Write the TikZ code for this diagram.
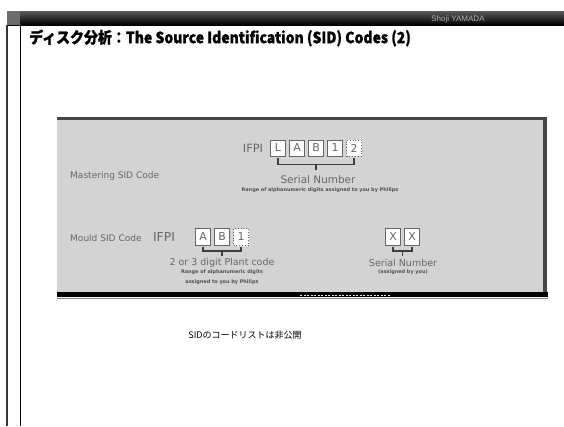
\documentclass[tikz,border=0pt]{standalone}
\usepackage{fontspec}
\usepackage{graphicx}
\usetikzlibrary{calc}
\setmainfont{Liberation Sans}
\newfontfamily\cjk{Noto Sans CJK JP}
\newfontfamily\cjkbold{Noto Sans CJK JP}[BoldFeatures={FakeBold=1.2}]
\newfontfamily\pan{DejaVu Sans}[Scale=0.95]
\definecolor{panelgray}{HTML}{D3D3D3}
\definecolor{inkgray}{HTML}{666666}
\tikzset{
  cbox/.style={draw=inkgray, fill=white, line width=0.8pt, minimum width=15pt, minimum height=16pt, inner sep=0pt, font=\pan\fontsize{11.5}{12}\selectfont, text=inkgray},
  cboxd/.style={cbox, dotted},
  ptext/.style={text=inkgray, inner sep=0pt, font=\pan\fontsize{9.5}{10}\selectfont},
  pbig/.style={text=inkgray, inner sep=0pt, font=\pan\fontsize{10}{10}\selectfont},
  psmall/.style={text=inkgray!80!black, inner sep=0pt, font=\pan\bfseries\fontsize{5.2}{6}\selectfont},
  brace/.style={draw=inkgray!60!black, line width=1.4pt}
}
\begin{document}
\begin{tikzpicture}[x=1pt,y=-1pt]
\useasboundingbox (0,0) rectangle (564,426);
\fill[white] (0,0) rectangle (564,426);
% header bar
\shade[top color=gray!70!black, bottom color=black] (7,11) rectangle (564,25);
\fill[gray!85!black] (7,11) rectangle (20,25);
\draw[gray!40!black, line width=1.8pt] (7,25) -- (7,426);
\draw[black, line width=1pt] (20,25) -- (20,426);
\node[text=gray!60, font=\fontsize{8}{9}\selectfont, inner sep=0pt] (author) at (458,19) {Shoji YAMADA};
% title
\node[anchor=west, inner sep=0pt, font=\cjkbold\bfseries\fontsize{15.5}{16}\selectfont] (title) at (29,38) {\scalebox{0.9}[1]{ディスク分析：The Source Identification (SID) Codes (2)}};
% panel
\fill[panelgray] (57,118) rectangle (547,297);
\fill[gray!55!black] (57,117) rectangle (547,120);
\fill[gray!55!black] (543,118) rectangle (547,292);
\fill[black] (57,292) rectangle (548,297);
\draw[gray, line width=0.8pt] (57,298.5) -- (548,298.5);
\draw[white!85!gray, dash pattern=on 2pt off 1.5pt, line width=1pt] (300,295) -- (390,295);
% mastering line
\node[pbig, font=\pan\fontsize{12}{12}\selectfont] (ifpi1) at (253,148) {IFPI};
\node[cbox] (mL) at (278,148) {L};
\node[cbox] (mA) at (297,148) {A};
\node[cbox] (mB) at (316,148) {B};
\node[cbox] (m1) at (335,148) {1};
\node[cboxd] (m2) at (354,148) {2};
\draw[brace] (mL.south) ++(0,2) -- ++(0,6) coordinate (mbl) -- (mbl -| m2.south) -- ++(0,-6);
\coordinate (mstem) at ($(mbl)!0.5!(mbl -| m2.south)$);
\draw[brace] (mstem) -- ++(0,6);
\node[pbig, font=\pan\fontsize{11}{11}\selectfont] (msn) at (318,180) {Serial Number};
\node[psmall] (mrange) at (320,190) {Range of alphanumeric digits assigned to you by Philips};
\node[ptext, anchor=west] (mlabel) at (70,176) {Mastering SID Code};
% mould line
\node[ptext, anchor=west] (dlabel) at (70,238) {Mould SID Code};
\node[pbig, font=\pan\fontsize{13}{13}\selectfont] (ifpi2) at (164,237) {IFPI};
\node[cbox, minimum height=17pt] (dA) at (203,237) {A};
\node[cbox, minimum height=17pt] (dB) at (222,237) {B};
\node[cboxd, minimum height=17pt] (d1) at (241,237) {1};
\draw[brace] (dA.south) ++(0,1) -- ++(0,4) coordinate (dbl) -- (dbl -| d1.south) -- ++(0,-4);
\coordinate (dstem) at ($(dbl)!0.5!(dbl -| d1.south)$);
\draw[brace] (dstem) -- ++(0,5);
\node[pbig] (dplant) at (222,263) {2 or 3 digit Plant code};
\node[psmall] (drange1) at (222,272.5) {Range of alphanumeric digits};
\node[psmall] (drange2) at (222,282) {assigned to you by Philips};
\node[cbox, minimum height=17pt] (dX1) at (393,237) {X};
\node[cbox, minimum height=17pt] (dX2) at (412,237) {X};
\draw[brace] (dX1.south) ++(0,1) -- ++(0,4) coordinate (xbl) -- (xbl -| dX2.south) -- ++(0,-4);
\coordinate (xstem) at ($(xbl)!0.5!(xbl -| dX2.south)$);
\draw[brace] (xstem) -- ++(0,5);
\node[pbig] (xsn) at (403,263) {Serial Number};
\node[psmall] (xassign) at (403,272.5) {(assigned by you)};
% caption
\node[inner sep=0pt, font=\cjk\fontsize{9}{9}\selectfont] (caption) at (245,335) {SIDのコードリストは非公開};
\end{tikzpicture}
\end{document}
